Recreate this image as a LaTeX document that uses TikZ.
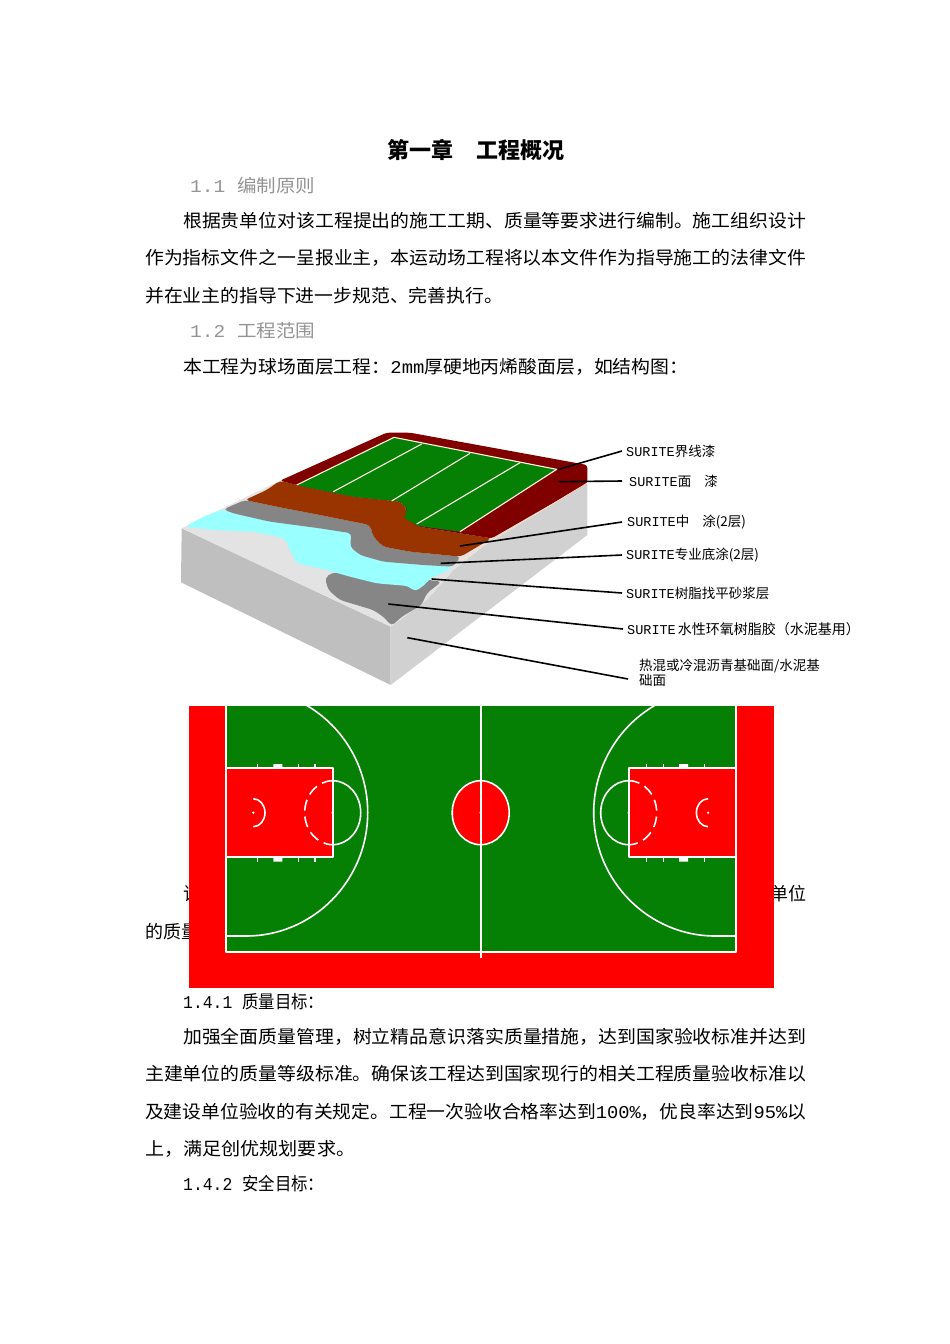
\documentclass[tikz,border=0pt]{standalone}
\usepackage{fontspec}
\usepackage{graphicx}
\newfontfamily\cjk{Noto Sans CJK SC}
\newfontfamily\ltn{Liberation Mono}
\definecolor{courtgreen}{HTML}{058005}
\definecolor{courtred}{HTML}{FF0000}
\definecolor{layermaroon}{HTML}{800000}
\definecolor{layerbrown}{HTML}{993300}
\definecolor{layergray}{HTML}{858585}
\definecolor{layercyan}{HTML}{99FFFF}
\definecolor{layerglue}{HTML}{868686}
\tikzset{
  bodytext/.style={anchor=west, inner sep=0pt, font=\cjk\fontsize{18}{20}\selectfont},
  headtext/.style={bodytext, text=black!42},
  leader/.style={draw=black, line width=1.6pt},
  layerlabel/.style={anchor=west, inner sep=0pt, align=left, font=\cjk\fontsize{13.5}{13.5}\selectfont},
  courtline/.style={draw=white, line width=1.6pt},
}
\newcommand{\bodyline}[6][bodytext]{\node[#1] (#2) at (#3,#4) {\resizebox{#5pt}{\height}{#6}};}
\begin{document}
\begin{tikzpicture}[x=1pt, y=-1pt, line cap=butt, line join=round]
	\useasboundingbox (0,0) rectangle (950,1344);
	
	%========================
	% Page text, upper part
	%========================
	\node[bodytext, font=\cjk\bfseries\fontsize{22}{24}\selectfont] (title) at (387,150) {第一章\hspace{23pt}工程概况};
	\bodyline[headtext]{headA}{190}{186}{125}{{\ltn 1.1 }编制原则}
	\bodyline{paraAa}{183}{221}{623}{根据贵单位对该工程提出的施工工期、质量等要求进行编制。施工组织设计}
	\bodyline{paraAb}{145}{258}{661}{作为指标文件之一呈报业主，本运动场工程将以本文件作为指导施工的法律文件}
	\bodyline{paraAc}{145}{296}{358}{并在业主的指导下进一步规范、完善执行。}
	\bodyline[headtext]{headB}{190}{331}{125}{{\ltn 1.2 }工程范围}
	\bodyline{paraB}{183}{367}{505}{本工程为球场面层工程：{\ltn 2mm}厚硬地丙烯酸面层，如结构图：}
	
	%========================
	% Text partly under the court
	%========================
	\node[bodytext] (hiddenA) at (183,894) {该};
	\node[bodytext] (hiddenB) at (770,894) {单位};
	\node[bodytext] (hiddenC) at (145,932) {的质量};
	
	%========================
	% Layer block
	%========================
	\begin{scope}[shift={(170,420)}, scale=1/3]
		% faces
		\fill[black!25] (35,325) -- (662,620) -- (662,795) -- (33,487) -- cycle;
		\fill[black!18] (662,620) -- (770,540) -- (850,450) -- (970,355) -- (1252,190) -- (1252,345) -- (662,795) -- cycle;
		\fill[black!11] (35,325) -- (330,182) -- (1252,190) -- (970,355) -- (850,450) -- (770,540) -- (662,620) -- cycle;
		% glue layer
		\fill[layerglue, rounded corners=4pt] (485,458) -- (465,475) -- (475,510) -- (510,540) -- (610,570) -- (640,590) -- (665,618) -- (695,590) -- (755,555) -- (770,520) -- (815,485) -- (700,470) -- cycle;
		% mortar layer
		\fill[layercyan, rounded corners=4pt] (45,320) -- (100,290) -- (160,268) -- (190,280) -- (300,305) -- (450,325) -- (545,340) -- (540,380) -- (570,405) -- (640,425) -- (760,435) -- (850,440) -- (820,458) -- (778,475) -- (770,490) -- (735,515) -- (715,498) -- (620,490) -- (540,470) -- (470,450) -- (380,430) -- (362,395) -- (345,355) -- (250,335) -- (130,330) -- cycle;
		% primer layer
		\fill[layergray, rounded corners=4pt] (160,268) -- (225,240) -- (330,262) -- (450,285) -- (600,315) -- (610,350) -- (640,380) -- (720,395) -- (872,410) -- (850,440) -- (760,435) -- (640,425) -- (570,405) -- (540,380) -- (545,340) -- (450,325) -- (300,305) -- (190,280) -- cycle;
		% middle coat
		\fill[layerbrown, rounded corners=4pt] (225,240) -- (290,210) -- (330,182) -- (400,200) -- (550,230) -- (690,245) -- (710,265) -- (705,295) -- (745,320) -- (965,355) -- (872,410) -- (720,395) -- (640,380) -- (610,350) -- (600,315) -- (450,285) -- (330,262) -- cycle;
		% top coat
		\fill[layermaroon, rounded corners=3pt] (330,182) -- (650,38) -- (720,38) -- (1252,135) -- (1252,190) -- (965,355) -- (745,320) -- (705,295) -- (710,265) -- (690,245) -- (550,230) -- (400,200) -- cycle;
		\fill[courtgreen] (380,195) -- (672,52) -- (1160,148) -- (870,335) -- (745,318) -- (705,295) -- (710,265) -- (690,245) -- (550,230) -- (400,200) -- cycle;
		% boundary paint
		\draw[white!90!orange, line width=1.1pt] (380,195) -- (672,52) -- (1160,148) -- (870,335);
		\draw[white!90!orange, line width=1.1pt] (490,215) -- (755,72) (665,243) -- (900,100) (740,312) -- (1050,128);
		\draw[white!75!orange, line width=.7pt] (1250,190) -- (870,420);
		% leader starts
		\coordinate (startA) at (1165,148);
		\coordinate (startB) at (1165,185);
		\coordinate (startC) at (870,378);
		\coordinate (startD) at (812,430);
		\coordinate (startE) at (785,477);
		\coordinate (startF) at (655,552);
		\coordinate (startG) at (712,653);
	\end{scope}
	
	% layer labels
	\node[layerlabel] (labelA) at (626,451) {{\ltn SURITE}界线漆};
	\node[layerlabel] (labelB) at (629,481) {{\ltn SURITE}面\hspace{13pt}漆};
	\node[layerlabel] (labelC) at (627,522) {{\ltn SURITE}中\hspace{13pt}涂(2层)};
	\node[layerlabel] (labelD) at (626,555) {{\ltn SURITE}专业底涂(2层)};
	\node[layerlabel] (labelE) at (626,593) {{\ltn SURITE}树脂找平砂浆层};
	\node[layerlabel] (labelF) at (627,629) {{\ltn SURITE}\hspace{2pt}\fontsize{14}{14}\selectfont 水性环氧树脂胶（水泥基用）};
	\node[layerlabel] (labelG) at (639,673) {热混或冷混沥青基础面/水泥基\\础面};
	
	\draw[leader] (startA) -- ([xshift=-4pt]labelA.west);
	\draw[leader] (startB) -- ([xshift=-7pt]labelB.west);
	\draw[leader] (startC) -- ([xshift=-5pt]labelC.west);
	\draw[leader] (startD) -- ([xshift=-4pt]labelD.west);
	\draw[leader] (startE) -- ([xshift=-4pt]labelE.west);
	\draw[leader] (startF) -- ([xshift=-4pt]labelF.west);
	\draw[leader] (startG) -- ([xshift=-11pt,yshift=-6pt]labelG.west);
	
	%========================
	% Court
	%========================
	\fill[courtred] (189,706) rectangle (773.5,988);
	\fill[courtgreen] (225.7,706) rectangle (736,951.7);
	\draw[courtline] (225.7,706) -- (225.7,951.7) -- (736,951.7) -- (736,706);
	\draw[courtline] (480.7,706) -- (480.7,958);
	% centre circle
	\draw[courtline, fill=courtred] (480.7,812.7) ellipse [x radius=28.5, y radius=32];
	\draw[courtline] (480.7,780.7) -- (480.7,844.7);
	\fill[white] (480.7,812.7) circle (1.3);
	% both halves
	\foreach \side/\cx in {1/0, -1/961.4}{
		\begin{scope}[shift={(\cx,0)}, xscale=\side]
			% three point line
			\draw[courtline] (225.7,936) -- (246,936) arc[start angle=90, end angle=-60, x radius=121.7, y radius=123.5];
			% key
			\draw[courtline, fill=courtred] (225.7,768) rectangle (332.7,856.7);
			\foreach \tick in {257.3,298.3,315}{
				\draw[white, line width=1.2pt] (\tick,764) -- (\tick,768) (\tick,856.7) -- (\tick,861.7);
			}
			\fill[white] (273.3,764) rectangle (282.3,768) (273.3,856.7) rectangle (282.3,861.7);
			% free throw circle
			\draw[courtline] (332.7,780.7) arc[start angle=-90, end angle=90, x radius=28, y radius=32];
			\draw[courtline, dash pattern=on 11pt off 6pt] (332.7,780.7) arc[start angle=-90, end angle=-270, x radius=28, y radius=32];
			\fill[white] (332.7,812.7) circle (1.3);
			% basket
			\draw[courtline] (253.3,798.7) arc[start angle=-90, end angle=90, x radius=11.7, y radius=14];
			\fill[white] (253.3,812.7) circle (1.3);
		\end{scope}
	}
	
	%========================
	% Page text, lower part
	%========================
	\bodyline{goalA}{183}{1002}{141}{{\ltn 1.4.1 }质量目标：}
	\bodyline{paraCa}{183}{1037}{623}{加强全面质量管理，树立精品意识落实质量措施，达到国家验收标准并达到}
	\bodyline{paraCb}{145}{1074}{661}{主建单位的质量等级标准。确保该工程达到国家现行的相关工程质量验收标准以}
	\bodyline{paraCc}{145}{1112}{661}{及建设单位验收的有关规定。工程一次验收合格率达到{\ltn 100\%}，优良率达到{\ltn 95\%}以}
	\bodyline{paraCd}{145}{1149}{210}{上，满足创优规划要求。}
	\bodyline{goalB}{183}{1184}{141}{{\ltn 1.4.2 }安全目标：}
\end{tikzpicture}
\end{document}
